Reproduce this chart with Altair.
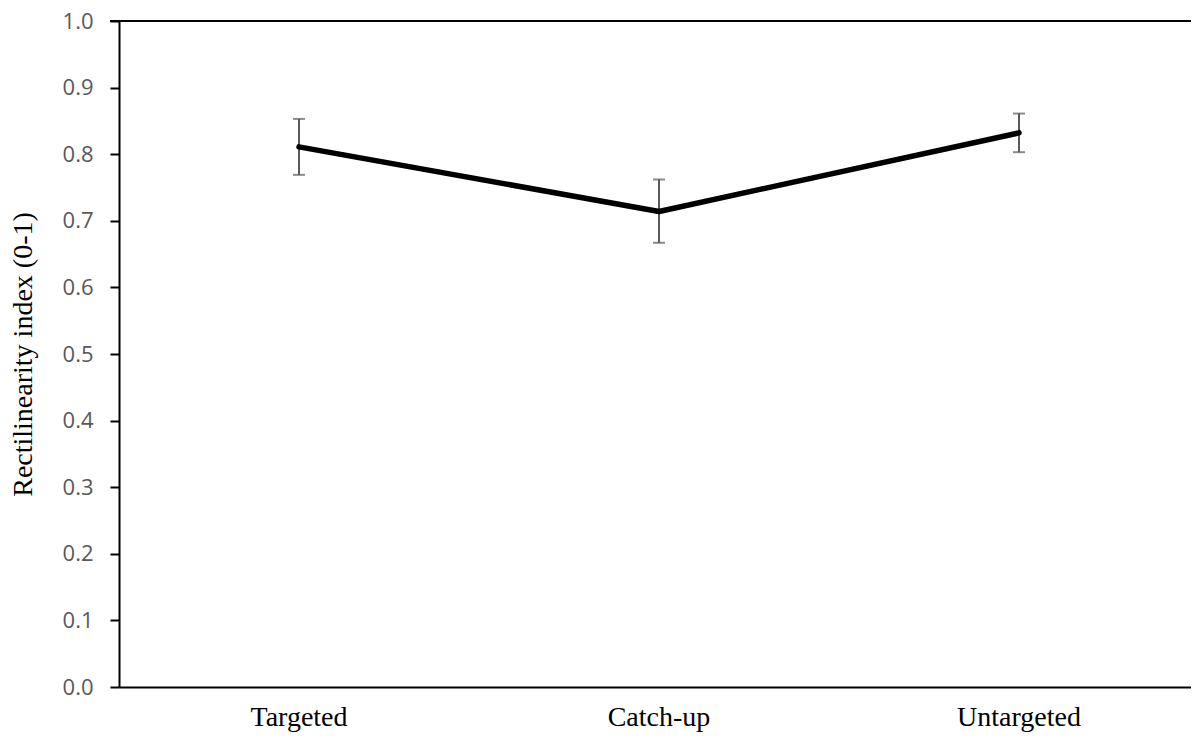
import altair as alt
import pandas as pd

categories = ["Targeted", "Catch-up", "Untargeted"]
means = [0.811, 0.714, 0.832]
upper = [0.853, 0.762, 0.861]
lower = [0.769, 0.667, 0.803]

df = pd.DataFrame({"cat": categories, "mean": means, "upper": upper, "lower": lower})

x_enc = alt.X("cat:N", sort=categories,
              scale=alt.Scale(paddingInner=0, paddingOuter=0, range=[0, 1080]),
              axis=alt.Axis(title=None, labelAngle=0, ticks=False, domain=True, domainColor="black",
                            domainWidth=2, labelFont="Liberation Serif", labelFontSize=28,
                            labelColor="black", labelPadding=16))
y_scale = alt.Scale(domain=[0, 1], nice=False, zero=True)
y_axis = alt.Axis(title="Rectilinearity index (0-1)", values=[i / 10 for i in range(11)], format=".1f",
                  grid=False, domainColor="black", domainWidth=2, tickColor="black", tickWidth=2,
                  tickSize=9, labelFont="Open Sans", labelFontSize=22, labelColor="#595959",
                  labelPadding=17, titleFont="Liberation Serif", titleFontSize=28,
                  titleFontWeight="normal", titleColor="black", titleAngle=-90,
                  titleX=-96, titleY=333, titleAlign="center", titleBaseline="middle")

base = alt.Chart(df)

top_rule = base.mark_rule(color="black", strokeWidth=2).encode(
    y=alt.datum(1.0), x=alt.value(-9), x2=alt.value(1080))

err = base.mark_rule(color="#595959", strokeWidth=2).encode(
    x=x_enc, y=alt.Y("lower:Q", scale=y_scale, axis=y_axis), y2="upper:Q")

cap_hi = base.mark_tick(color="#595959", size=12, thickness=2).encode(
    x=alt.X("cat:N", sort=categories), y=alt.Y("upper:Q"))
cap_lo = base.mark_tick(color="#595959", size=12, thickness=2).encode(
    x=alt.X("cat:N", sort=categories), y=alt.Y("lower:Q"))

line = base.mark_line(color="black", strokeWidth=5.5, strokeCap="round", strokeJoin="round").encode(
    x=alt.X("cat:N", sort=categories), y=alt.Y("mean:Q"))

chart = alt.layer(err, cap_hi, cap_lo, line, top_rule).properties(
    width=1072, height=666,
    autosize=alt.AutoSizeParams(type="none"),
    padding={"left": 111, "top": 13, "right": 0, "bottom": 52},
).configure_view(stroke=None).configure(background="white")

chart.save("out.html", embed_options={"renderer": "svg", "actions": False})
